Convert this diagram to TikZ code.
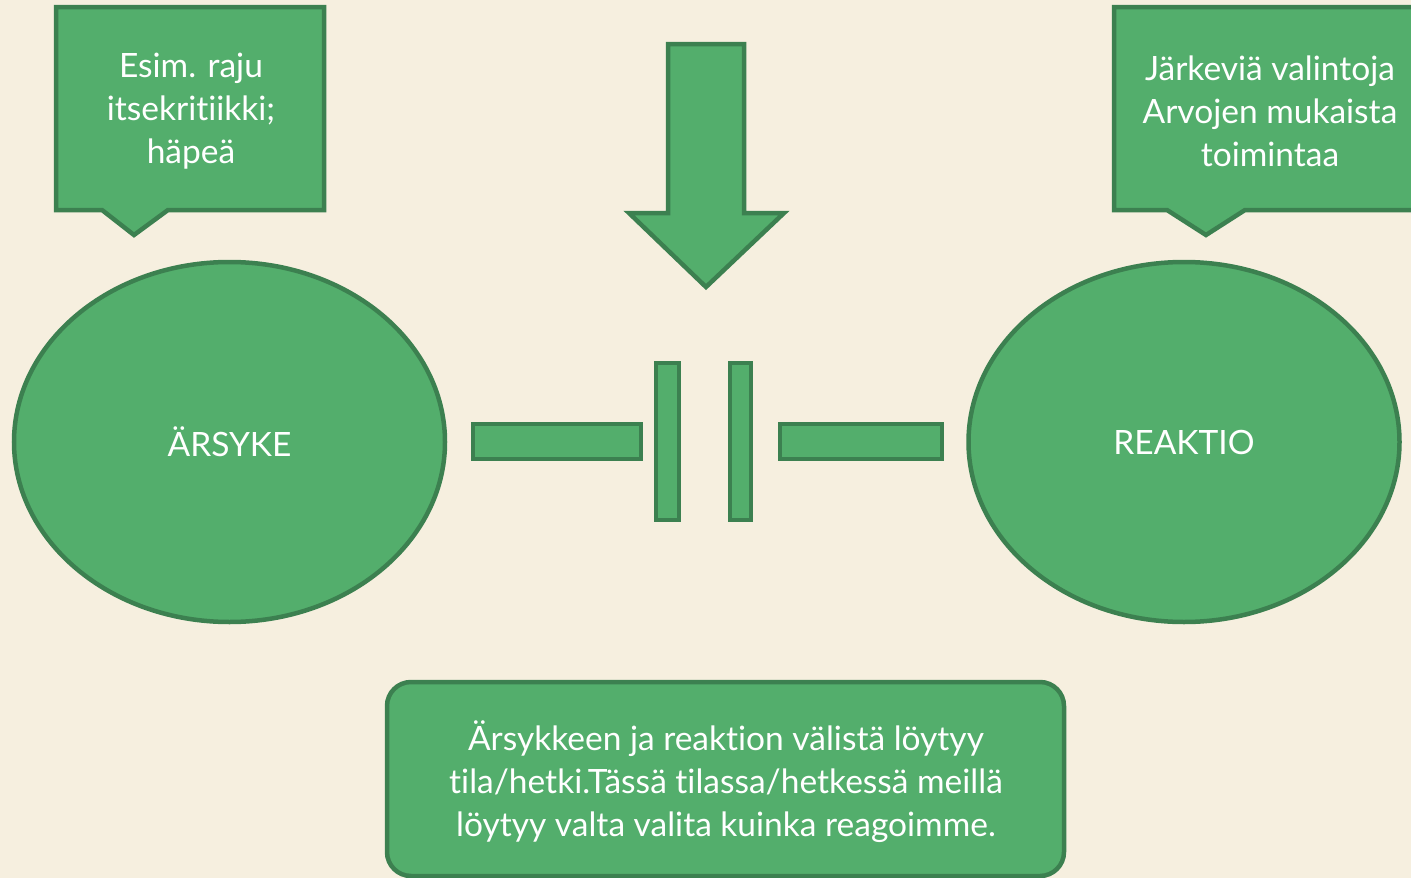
\documentclass[tikz,border=0pt]{standalone}
\usepackage{fontspec}
\setmainfont{Lato}[Ligatures={NoCommon}]
\usetikzlibrary{shapes.geometric}
\definecolor{bgcream}{HTML}{F6EFDF}
\definecolor{gfill}{HTML}{53AE6C}
\definecolor{gline}{HTML}{3C8050}
\tikzset{
  gshape/.style={fill=gfill, draw=gline, line width=4.5pt, line join=miter},
  gtext/.style={text=white, align=center, font=\fontsize{33.5}{43}\selectfont, inner sep=0pt},
  bigellipse/.style={gshape, ellipse, minimum width=431pt, minimum height=360pt, inner sep=0pt},
  barbox/.style={gshape, rectangle, inner sep=0pt},
}
\begin{document}
\begin{tikzpicture}[x=1pt,y=-1pt]
\fill[bgcream] (0,0) rectangle (1411,878);
\useasboundingbox (0,0) rectangle (1411,878);
\clip (0,0) rectangle (1411,878);

% left callout
\draw[gshape] (56,7) -- (324,7) -- (324,210) -- (168,210) -- (134,235) -- (102,210) -- (56,210) -- cycle;
\node[gtext] (calloutL) at (191,111) {Esim. raju\\itsekritiikki;\\häpeä};

% right callout
\draw[gshape] (1114,7) -- (1440,7) -- (1440,210) -- (1245,210) -- (1206,235) -- (1167,210) -- (1114,210) -- cycle;
\node[gtext] (calloutR) at (1270,111) {Järkeviä valintoja\\Arvojen mukaista\\toimintaa};

% down arrow
\draw[gshape] (668,44) -- (744,44) -- (744,213) -- (784,213) -- (706,287) -- (629,213) -- (668,213) -- cycle;

% ellipses
\node[bigellipse] (arsyke) at (229.5,442) {};
\node[gtext] at (arsyke.center) {ÄRSYKE};
\node[bigellipse] (reaktio) at (1184,442) {};
\node[gtext] at (reaktio.center) {REAKTIO};

% bars
\node[barbox, minimum width=168pt, minimum height=35pt] (barL) at (557,441.5) {};
\node[barbox, minimum width=23pt, minimum height=157pt] (barV1) at (667.5,441.5) {};
\node[barbox, minimum width=21pt, minimum height=157pt] (barV2) at (740.5,441.5) {};
\node[barbox, minimum width=162pt, minimum height=35pt] (barR) at (861,441.5) {};

% bottom box
\draw[gshape, rounded corners=24pt] (387,682) rectangle (1064,876);
\node[gtext] (bottomtext) at (726,782) {Ärsykkeen ja reaktion välistä löytyy\\tila/hetki.Tässä tilassa/hetkessä meillä\\löytyy valta valita kuinka reagoimme.};
\end{tikzpicture}
\end{document}
